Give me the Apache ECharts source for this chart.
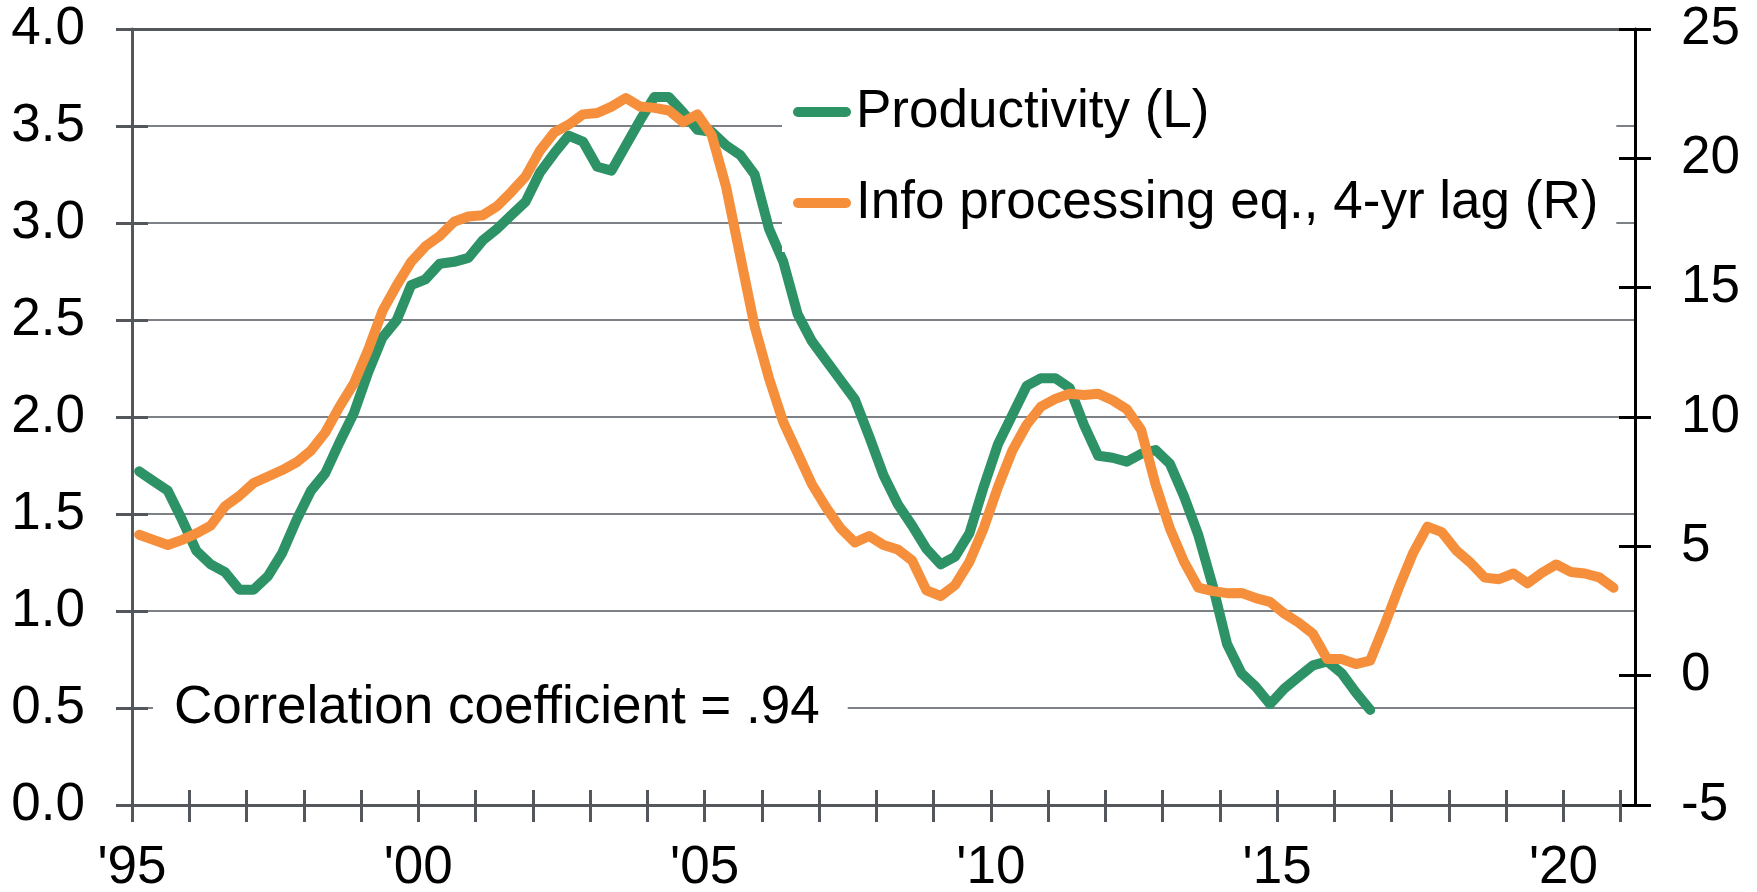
<!DOCTYPE html>
<html>
<head>
<meta charset="utf-8">
<script src="https://cdn.jsdelivr.net/npm/echarts@6/dist/echarts.min.js"></script>
<style>
  html, body { margin: 0; padding: 0; background: #fff; }
  #chart { width: 1757px; height: 892px; }
</style>
</head>
<body>
<div id="chart"></div>
<script>
// quarterly data, first point = 1995Q1 (plotted at mid-quarter)
const START_YEAR = 1995;

// productivity growth, % (left axis)
const productivity = [
  1.72, 1.67, 1.62, 1.47, 1.31, 1.24, 1.20, 1.11, 1.11, 1.18, 1.30, 1.47,
  1.62, 1.71, 1.87, 2.02, 2.23, 2.41, 2.50, 2.68, 2.71, 2.79, 2.80, 2.82,
  2.91, 2.97, 3.04, 3.11, 3.26, 3.36, 3.45, 3.42, 3.29, 3.27, 3.40, 3.53,
  3.65, 3.65, 3.57, 3.48, 3.47, 3.40, 3.35, 3.25, 2.97, 2.80, 2.53, 2.39,
  2.29, 2.19, 2.09, 1.90, 1.70, 1.55, 1.44, 1.32, 1.24, 1.28, 1.40, 1.64,
  1.86, 2.01, 2.16, 2.20, 2.20, 2.15, 1.96, 1.80, 1.79, 1.77, 1.81, 1.83,
  1.76, 1.59, 1.39, 1.13, 0.83, 0.68, 0.61, 0.52, 0.60, 0.66, 0.72, 0.74,
  0.68, 0.58, 0.49
];

// info processing equipment investment, 4-yr lag, % (right axis)
const infoProcessing = [
  5.45, 5.25, 5.05, 5.25, 5.5, 5.8, 6.55, 6.95, 7.45, 7.7, 7.95, 8.25,
  8.7, 9.4, 10.4, 11.3, 12.6, 14.1, 15.1, 16.0, 16.6, 17.0, 17.55, 17.75,
  17.8, 18.15, 18.7, 19.3, 20.3, 21.0, 21.3, 21.7, 21.75, 22.0, 22.33, 22.0,
  21.95, 21.85, 21.4, 21.7, 20.9, 18.9, 16.2, 13.5, 11.5, 9.8, 8.6, 7.4,
  6.5, 5.7, 5.15, 5.4, 5.05, 4.88, 4.45, 3.3, 3.08, 3.5, 4.4, 5.7,
  7.3, 8.7, 9.7, 10.4, 10.7, 10.9, 10.85, 10.9, 10.65, 10.3, 9.5, 7.4,
  5.7, 4.4, 3.4, 3.27, 3.19, 3.2, 3.0, 2.85, 2.4, 2.05, 1.62, 0.64,
  0.64, 0.45, 0.58, 1.95, 3.4, 4.75, 5.76, 5.55, 4.85, 4.37, 3.79, 3.73,
  3.95, 3.57, 3.98, 4.3, 4.01, 3.95, 3.8, 3.4
];

const tickYears = [];
for (let y = 1995; y <= 2021; y++) tickYears.push(y);
const labelYears = [1995, 2000, 2005, 2010, 2015, 2020];

const SERIES_NAMES = ['Productivity (L)', 'Info processing eq., 4-yr lag (R)'];
const GREEN = '#2e9267';
const ORANGE = '#f58f3c';
const AXIS_GREY = '#53575c';
const GRID_GREY = '#7d8084';
const FONT = "'Liberation Sans', Arial, sans-serif";
const CAPSULE = 'path://M5,0 L53,0 A5,5 0 0 1 53,10 L5,10 A5,5 0 0 1 5,0 Z';

const toPairs = arr => arr.map((v, i) => [START_YEAR + (i + 0.5) / 4, v]);

const labelStyle = { fontSize: 53, color: '#000', fontFamily: FONT };
const gridBox = { left: 132, right: 122, top: 29, bottom: 87, outerBoundsMode: 'none' };
const xRange = { type: 'value', min: 1995, max: 2021.25 };

const chart = echarts.init(document.getElementById('chart'));
chart.setOption({
  animation: false,
  backgroundColor: '#fff',
  grid: [ { ...gridBox }, { ...gridBox } ],
  title: {
    text: 'Correlation coefficient = .94',
    left: 153, top: 674,
    padding: [4, 28, 4, 21],
    backgroundColor: '#fff',
    textStyle: { ...labelStyle, fontWeight: 'normal', lineHeight: 60 },
  },
  legend: {
    orient: 'vertical', left: 782, top: 62,
    padding: [20, 18, 19, 11],
    backgroundColor: '#fff',
    itemWidth: 58, itemHeight: 10, itemGap: 31,
    icon: CAPSULE,
    selectedMode: false,
    textStyle: { ...labelStyle, lineHeight: 60 },
    data: SERIES_NAMES,
  },
  xAxis: [
    { // main bottom axis: line, outer ticks, labels
      ...xRange, gridIndex: 0, position: 'bottom',
      axisLine: { show: true, onZero: false, lineStyle: { color: AXIS_GREY, width: 3 } },
      axisTick: { show: true, inside: false, length: 17, customValues: tickYears,
                  lineStyle: { color: AXIS_GREY, width: 3 } },
      axisLabel: { ...labelStyle, margin: 37, customValues: labelYears,
                   formatter: v => "'" + String(v % 100).padStart(2, '0') },
      splitLine: { show: false },
    },
    { // top frame line
      ...xRange, gridIndex: 0, position: 'top',
      axisLine: { show: true, onZero: false, lineStyle: { color: AXIS_GREY, width: 3 } },
      axisTick: { show: false }, axisLabel: { show: false }, splitLine: { show: false },
    },
    { // inner half of the crossing ticks
      ...xRange, gridIndex: 1, position: 'bottom',
      axisLine: { show: false, onZero: false },
      axisTick: { show: true, inside: true, length: 15, customValues: tickYears,
                  lineStyle: { color: AXIS_GREY, width: 3 } },
      axisLabel: { show: false }, splitLine: { show: false },
    },
  ],
  yAxis: [
    {
      type: 'value', gridIndex: 0, position: 'left', min: 0, max: 4, interval: 0.5,
      axisLine: { show: true, onZero: false, lineStyle: { color: AXIS_GREY, width: 3 } },
      axisTick: { show: true, inside: false, length: 16, lineStyle: { color: AXIS_GREY, width: 3 } },
      axisLabel: { ...labelStyle, margin: 47, formatter: v => v.toFixed(1) },
      splitLine: { show: true, lineStyle: { color: GRID_GREY, width: 2 } },
    },
    {
      type: 'value', gridIndex: 0, position: 'right', min: -5, max: 25, interval: 5,
      axisLine: { show: true, onZero: false, lineStyle: { color: '#000', width: 3 } },
      axisTick: { show: true, inside: false, length: 16, lineStyle: { color: '#000', width: 3 } },
      axisLabel: { ...labelStyle, margin: 46 },
      splitLine: { show: false },
    },
    {
      type: 'value', gridIndex: 1, position: 'left', min: 0, max: 4, interval: 0.5,
      axisLine: { show: false, onZero: false },
      axisTick: { show: true, inside: true, length: 16, lineStyle: { color: AXIS_GREY, width: 3 } },
      axisLabel: { show: false }, splitLine: { show: false },
    },
    {
      type: 'value', gridIndex: 1, position: 'right', min: -5, max: 25, interval: 5,
      axisLine: { show: false, onZero: false },
      axisTick: { show: true, inside: true, length: 16, lineStyle: { color: '#000', width: 3 } },
      axisLabel: { show: false }, splitLine: { show: false },
    },
  ],
  series: [
    {
      name: SERIES_NAMES[0], type: 'line', xAxisIndex: 0, yAxisIndex: 0,
      data: toPairs(productivity),
      symbol: 'none', silent: true,
      itemStyle: { color: GREEN },
      lineStyle: { color: GREEN, width: 10, cap: 'round', join: 'round' },
    },
    {
      name: SERIES_NAMES[1], type: 'line', xAxisIndex: 0, yAxisIndex: 1,
      data: toPairs(infoProcessing),
      symbol: 'none', silent: true,
      itemStyle: { color: ORANGE },
      lineStyle: { color: ORANGE, width: 10, cap: 'round', join: 'round' },
    },
  ],
});
</script>
</body>
</html>
